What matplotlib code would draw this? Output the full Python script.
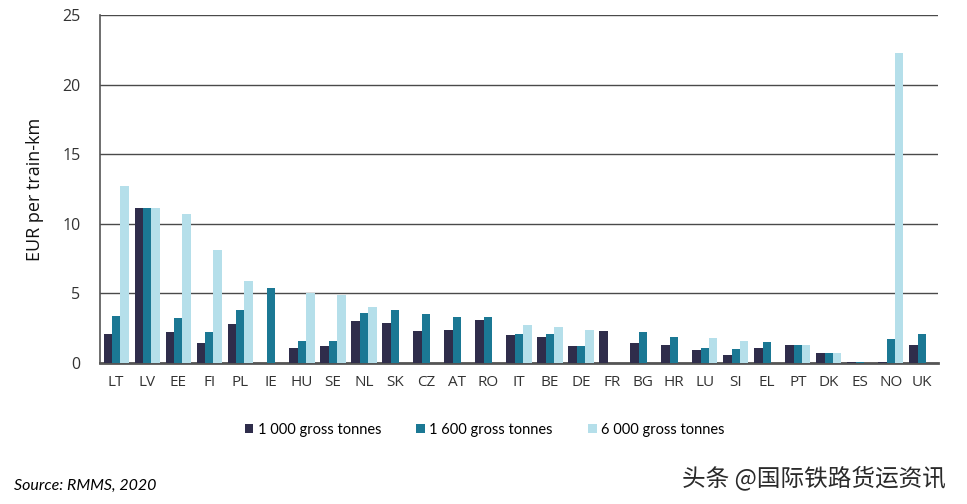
import numpy as np
import matplotlib.pyplot as plt

countries = ["LT", "LV", "EE", "FI", "PL", "IE", "HU", "SE", "NL", "SK", "CZ", "AT", "RO",
             "IT", "BE", "DE", "FR", "BG", "HR", "LU", "SI", "EL", "PT", "DK", "ES", "NO", "UK"]
t1000 = [2.1, 11.1, 2.2, 1.4, 2.8, 0, 1.1, 1.2, 3.0, 2.9, 2.3, 2.4, 3.1,
         2.0, 1.9, 1.2, 2.3, 1.4, 1.3, 0.9, 0.6, 1.1, 1.3, 0.7, 0.1, 0.1, 1.3]
t1600 = [3.4, 11.1, 3.2, 2.2, 3.8, 5.4, 1.6, 1.6, 3.6, 3.8, 3.5, 3.3, 3.3,
         2.1, 2.1, 1.2, 0, 2.2, 1.9, 1.1, 1.0, 1.5, 1.3, 0.7, 0.1, 1.7, 2.1]
t6000 = [12.7, 11.1, 10.7, 8.1, 5.9, 0, 5.0, 4.9, 4.0, 0, 0, 0, 0,
         2.7, 2.6, 2.4, 0, 0, 0, 1.8, 1.6, 0, 1.3, 0.7, 0, 22.3, 0]
labels = ["1 000 gross tonnes", "1 600 gross tonnes", "6 000 gross tonnes"]
colors = ["#2f2d4b", "#1b7894", "#b5dfea"]

fig = plt.figure(figsize=(9.67, 5.04), dpi=100)
ax = fig.add_axes([0.1034, 0.2798, 0.8666, 0.6905])

x = np.arange(len(countries))
w = 0.27
for i, vals in enumerate([t1000, t1600, t6000]):
    ax.bar(x + (i - 1) * w, vals, w, color=colors[i], label=labels[i], zorder=3)

ax.set_xlim(-0.52, len(countries) - 0.48)
ax.set_ylim(0, 25)
ax.set_yticks([0, 5, 10, 15, 20, 25])
ax.yaxis.grid(True, color="#4a4a4a", linewidth=1.0, zorder=0)
ax.set_axisbelow(True)
ax.set_xticks(x)
ax.set_xticklabels(countries, fontsize=11, color="#333333", family="Open Sans")
for lab in ax.get_yticklabels():
    lab.set_fontsize(11.5)
    lab.set_color("#333333")
    lab.set_family("Open Sans")
ax.tick_params(length=0, pad=9)
ax.tick_params(axis="y", pad=14)
ax.set_ylabel("EUR per train-km", fontsize=13, family="Open Sans", color="#111111", labelpad=13)

for s in ["top", "right"]:
    ax.spines[s].set_visible(False)
ax.spines["left"].set_color("#555555")
ax.spines["left"].set_linewidth(1.2)
ax.spines["bottom"].set_color("#555555")
ax.spines["bottom"].set_linewidth(2.0)

fig.legend(loc="center", bbox_to_anchor=(0.501, 1 - 430 / 504), ncol=3, frameon=False,
           handlelength=0.6, handleheight=0.6, handletextpad=0.3, columnspacing=2.4,
           prop={"family": "Lato", "size": 10.5})

fig.text(14 / 967, 1 - 486 / 504, "Source: RMMS, 2020", fontsize=11.5, style="italic",
         family="Lato", va="center", ha="left", color="#000000")
fig.text(946 / 967, 1 - 478 / 504, "头条 @国际铁路货运资讯", fontsize=17,
         family=["Noto Sans CJK SC", "DejaVu Sans"], va="center", ha="right", color="#2a2a2a")

fig.savefig("out.png", dpi=100)
